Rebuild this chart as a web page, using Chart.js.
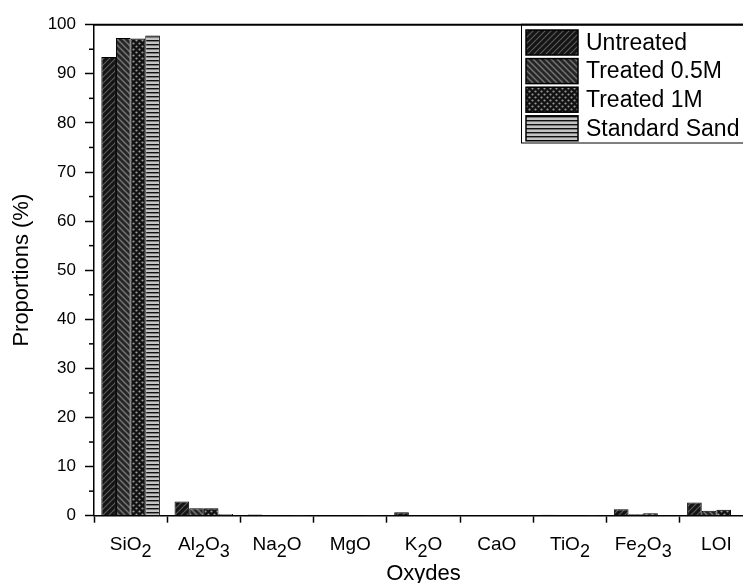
<!DOCTYPE html>
<html><head><meta charset="utf-8">
<style>
html,body{margin:0;padding:0;overflow:hidden;background:#fff;width:743px;height:583px}
#wrap{width:760px;height:583px;position:relative}
</style>
<script src="https://cdn.jsdelivr.net/npm/chart.js@4/dist/chart.umd.min.js"></script>
</head><body><div id="wrap"><canvas id="c" width="760" height="583"></canvas></div>
<script>
const categories = ['SiO₂','Al₂O₃','Na₂O','MgO','K₂O','CaO','TiO₂','Fe₂O₃','LOI'];
const seriesNames = ['Untreated','Treated 0.5M','Treated 1M','Standard Sand'];
const untreated  = [93.4, 2.9, 0.25, 0.05, 0.7, 0.15, 0.2, 1.3, 2.7];
const treated05  = [97.3, 1.5, 0.02, 0.02, 0.05, 0.03, 0.05, 0.3, 1.0];
const treated1   = [97.2, 1.5, 0.02, 0.02, 0.05, 0.03, 0.05, 0.5, 1.2];
const standard   = [97.8, 0.35, 0.02, 0.02, 0.02, 0.05, 0.03, 0.1, 0.05];
const yTicks = [0,10,20,30,40,50,60,70,80,90,100];
const yMinorTicks = [5,15,25,35,45,55,65,75,85,95];

const FONT = 'Liberation Sans, Arial, sans-serif';

function tile(w,h,draw){
  const c=document.createElement('canvas'); c.width=w; c.height=h;
  const g=c.getContext('2d'); draw(g,w,h);
  return document.getElementById('c').getContext('2d').createPattern(c,'repeat');
}
const patUntreated = tile(6,6,(g,s)=>{
  g.fillStyle='#141414'; g.fillRect(0,0,s,s);
  g.strokeStyle='#5c5c5c'; g.lineWidth=1.1;
  [[0,s,s,0],[-s/2,s/2,s/2,-s/2],[s/2,s*1.5,s*1.5,s/2]].forEach(l=>{g.beginPath();g.moveTo(l[0],l[1]);g.lineTo(l[2],l[3]);g.stroke();});
});
const pat05 = tile(6,6,(g,s)=>{
  g.fillStyle='#262626'; g.fillRect(0,0,s,s);
  g.strokeStyle='#747474'; g.lineWidth=1.5;
  [[0,0,s,s],[-s/2,s/2,s/2,s*1.5],[s/2,-s/2,s*1.5,s/2]].forEach(l=>{g.beginPath();g.moveTo(l[0],l[1]);g.lineTo(l[2],l[3]);g.stroke();});
});
const pat1 = tile(6,6,(g,s)=>{
  g.fillStyle='#121212'; g.fillRect(0,0,s,s);
  g.fillStyle='#9a9a9a';
  [[1.5,1.5],[4.5,4.5]].forEach(p=>{g.beginPath();g.arc(p[0],p[1],1.1,0,Math.PI*2);g.fill();});
});
const patStd = tile(4,4,(g)=>{
  g.fillStyle='#c4c4c4'; g.fillRect(0,0,4,4);
  g.fillStyle='#111'; g.fillRect(0,0,4,1.4);
});
const patterns=[patUntreated,pat05,pat1,patStd];

const subMap={'₀':'0','₁':'1','₂':'2','₃':'3','₄':'4','₅':'5','₆':'6','₇':'7','₈':'8','₉':'9'};
function parts(str){
  const out=[]; for(const ch of str){const sub=ch in subMap; const t=sub?subMap[ch]:ch;
    if(out.length&&out[out.length-1].sub===sub) out[out.length-1].t+=t; else out.push({t,sub});}
  return out;
}

const extras = {
  id:'extras',
  afterDraw(chart){
    const ctx=chart.ctx, a=chart.chartArea, xs=chart.scales.x, ys=chart.scales.y;
    ctx.save();
    ctx.strokeStyle='#000'; ctx.lineWidth=2;
    ctx.beginPath(); ctx.moveTo(a.left-0.75,a.top); ctx.lineTo(a.right,a.top); ctx.stroke();
    ctx.lineWidth=1.5;
    yMinorTicks.forEach(v=>{const y=ys.getPixelForValue(v); ctx.beginPath(); ctx.moveTo(a.left-5,y); ctx.lineTo(a.left,y); ctx.stroke();});
    ctx.fillStyle='#000'; ctx.textBaseline='alphabetic';
    const fMain='19px '+FONT, fSub='18px '+FONT;
    categories.forEach((lab,i)=>{
      const ps=parts(lab); let w=0;
      ps.forEach(p=>{ctx.font=p.sub?fSub:fMain; p.w=ctx.measureText(p.t).width; w+=p.w;});
      let x=xs.getPixelForValue(i)-w/2;
      ps.forEach(p=>{ctx.font=p.sub?fSub:fMain; ctx.textAlign='left'; ctx.fillText(p.t,x,p.sub?557:550); x+=p.w;});
    });
    const lx=521, ly=a.top, lh=143-a.top;
    ctx.fillStyle='#fff'; ctx.fillRect(lx,ly,chart.width-lx,lh);
    ctx.strokeStyle='#000'; ctx.lineWidth=1;
    ctx.strokeRect(lx+0.5,ly,chart.width,lh);
    ctx.beginPath(); ctx.moveTo(lx,ly); ctx.lineTo(chart.width,ly); ctx.lineWidth=2; ctx.stroke();
    chart.data.datasets.forEach((ds,i)=>{
      const by=30+i*28.6;
      ctx.fillStyle=ds.backgroundColor; ctx.fillRect(526,by,52,25);
      ctx.strokeStyle='#000'; ctx.lineWidth=1.5; ctx.strokeRect(526,by,52,25);
      ctx.fillStyle='#000'; ctx.font='23px '+FONT; ctx.textAlign='left'; ctx.textBaseline='middle';
      ctx.fillText(ds.label,586,by+13.5);
    });
    ctx.restore();
  }
};

const seriesData=[untreated,treated05,treated1,standard];
new Chart(document.getElementById('c'),{
  type:'bar',
  data:{labels:categories,datasets:seriesNames.map((n,i)=>({label:n,data:seriesData[i],backgroundColor:patterns[i],borderColor:'#000',borderWidth:1,categoryPercentage:0.8,barPercentage:1}))},
  options:{
    responsive:false, animation:false, devicePixelRatio:1,
    layout:{padding:{top:24.7,right:7,left:0,bottom:0}},
    plugins:{legend:{display:false},tooltip:{enabled:false}},
    scales:{
      x:{
        offset:true,
        grid:{display:true,drawOnChartArea:false,offset:true,tickLength:7,color:'#000',tickWidth:1.5},
        border:{display:true,color:'#000',width:1.5},
        ticks:{display:false},
        title:{display:true,text:'Oxydes',color:'#000',font:{family:FONT,size:22,lineHeight:1},padding:{top:0,bottom:-2}},
        afterFit(s){s.height=583-515.7;}
      },
      y:{
        min:0,max:100,
        afterBuildTicks(s){s.ticks=yTicks.map(v=>({value:v}));},
        ticks:{color:'#000',font:{family:FONT,size:17},padding:9},
        grid:{drawOnChartArea:false,tickLength:9,color:'#000',tickWidth:1.5},
        border:{display:true,color:'#000',width:1.5},
        title:{display:true,text:'Proportions (%)',color:'#000',font:{family:FONT,size:22,lineHeight:1},padding:{top:11,bottom:0}},
        afterFit(s){s.width=94;}
      }
    }
  },
  plugins:[extras]
});
</script>
</body></html>
